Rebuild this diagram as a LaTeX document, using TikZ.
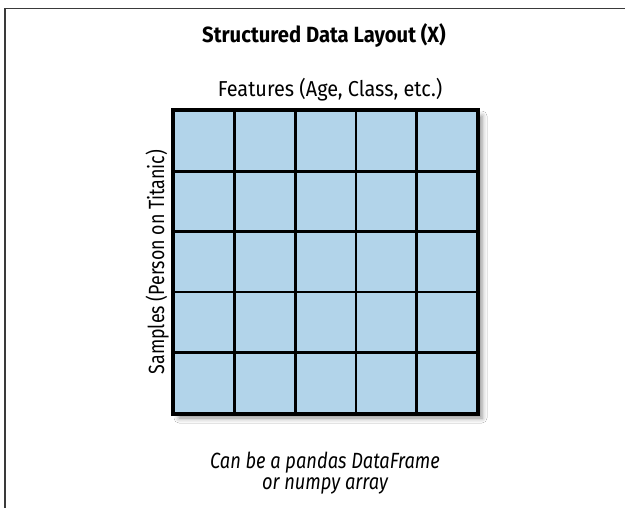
\documentclass[tikz,border=0pt]{standalone}
\usepackage{fontspec}
\setmainfont[FakeStretch=0.92]{Fira Sans}
\newfontfamily\notefont[FakeStretch=0.83]{Fira Sans}
\newfontfamily\sidefont[FakeStretch=0.81]{Fira Sans}
\usetikzlibrary{shadows.blur}
\definecolor{cellblue}{HTML}{B2D4EA}
\definecolor{framegray}{HTML}{3A3A3A}
\begin{document}
\begin{tikzpicture}[x=1pt,y=-1pt,
  cellbox/.style={draw=black,line width=2.6pt,fill=cellblue,minimum size=60.6pt,inner sep=0pt,outer sep=0pt},
  gridframe/.style={draw=black,line width=2.6pt,fill=cellblue,
    blur shadow={shadow xshift=5pt,shadow yshift=-5pt,shadow blur radius=5pt,shadow opacity=45}},
  lbl/.style={inner sep=0pt,font=\fontsize{22}{24}\selectfont}]
\useasboundingbox (0,0) rectangle (625,508);
\fill[white] (0,0) rectangle (625,508);
% page frame (left and top edges)
\draw[framegray,line width=1.3pt] (5,508) -- (5,8.5) -- (625,8.5);
% table body with its shadow
\node[gridframe,minimum width=303pt,minimum height=302pt,inner sep=0pt] (table) at (325.5,262) {};
\foreach \r in {0,...,4}{
  \foreach \c in {0,...,4}{
    \node[cellbox] (cell-\r-\c) at ({174+60.6*\c+30.3},{111+60.4*\r+30.2}) {};
  }
}
\draw[black,line width=2.6pt] (table.north west) rectangle (table.south east);
% labels
\node[lbl,anchor=base,font=\fontsize{22}{24}\selectfont\bfseries] (title) at (324,43) {Structured Data Layout (X)};
\node[lbl,anchor=base,font=\fontsize{21.6}{24}\selectfont] (features) at (330,97) {Features (Age, Class, etc.)};
\node[lbl,rotate=90,anchor=base,font=\sidefont\fontsize{22}{24}\selectfont] (samples) at (164,262) {Samples (Person on Titanic)};
\node[lbl,align=center,anchor=north,font=\notefont\fontsize{22}{20.5}\selectfont\itshape] (note) at (325,452) {Can be a pandas DataFrame\\or numpy array};
\end{tikzpicture}
\end{document}
